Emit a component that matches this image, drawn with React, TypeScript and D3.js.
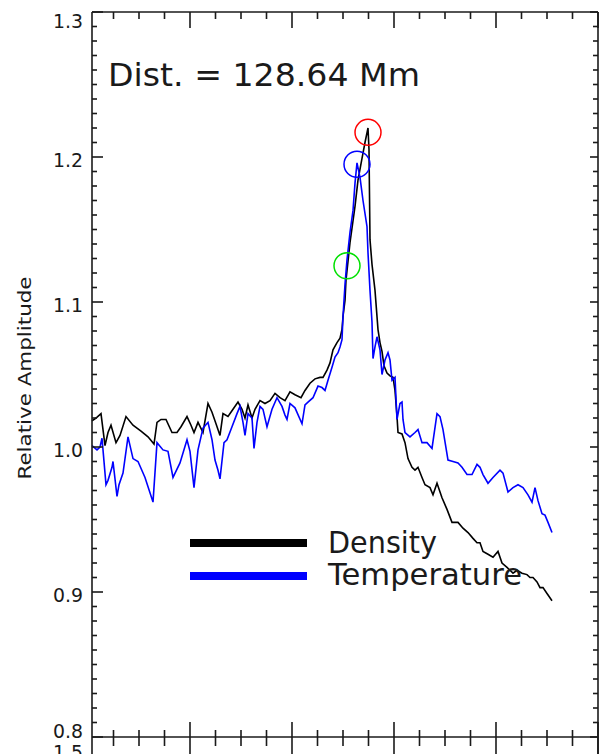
import React from "react";
import * as d3 from "d3";

// Density series: [x (arbitrary distance units), relative amplitude]
const densityPoints: [number, number][] = [
  [0, 1.018], [0.8, 1.02], [1.8, 1.023], [2.6, 1.001], [3.2, 1.01], [3.8, 1.015], [4.8, 1.003], [5.6, 1.008],
  [6.8, 1.021], [8.2, 1.015], [9.8, 1.011], [11.2, 1.007], [12.4, 1.002], [13, 1.017], [13.8, 1.019], [14.8, 1.019],
  [16, 1.01], [17, 1.01], [17.8, 1.014], [19, 1.021], [19.8, 1.015], [20.4, 1.01], [21.2, 1.017], [22.2, 1.01],
  [23.2, 1.03], [24, 1.024], [24.8, 1.016], [25.6, 1.008], [26.2, 1.023], [27.2, 1.021], [28.2, 1.026], [29.2, 1.031],
  [30, 1.026], [30.6, 1.02], [31.2, 1.029], [32, 1.02], [32.6, 1.026], [33.6, 1.032], [34.6, 1.03], [35.6, 1.032],
  [36.6, 1.037], [37.6, 1.034], [38.6, 1.032], [39.6, 1.038], [40.6, 1.036], [41.8, 1.034], [42.6, 1.039], [43.6, 1.044],
  [44.6, 1.047], [45.6, 1.048], [46.2, 1.048], [47, 1.053], [47.6, 1.058], [48.2, 1.067], [49, 1.072], [49.6, 1.075],
  [50, 1.081], [50.2, 1.09], [50.6, 1.101], [50.8, 1.115], [51.6, 1.141], [52.6, 1.166], [53.2, 1.184], [54, 1.199],
  [54.6, 1.21], [55.2, 1.22], [55.4, 1.205], [55.6, 1.143], [56, 1.126], [56.6, 1.108], [57.2, 1.081], [57.6, 1.072],
  [58, 1.066], [58.4, 1.056], [59, 1.051], [59.6, 1.049], [60.2, 1.048], [60.6, 1.039], [61, 1.021], [61.2, 1.01],
  [62, 1.009], [62.6, 1.003], [63.2, 0.992], [64, 0.986], [64.6, 0.984], [65.2, 0.986], [66, 0.979], [66.6, 0.974],
  [67.6, 0.972], [68.2, 0.967], [69, 0.975], [70, 0.965], [71, 0.957], [72, 0.948], [73.2, 0.948], [74.2, 0.944],
  [75.2, 0.941], [76.2, 0.937], [77, 0.934], [77.6, 0.934], [78.2, 0.928], [79.2, 0.926], [80.2, 0.924], [81.2, 0.928],
  [82, 0.92], [83, 0.917], [83.6, 0.915], [84.2, 0.913], [85, 0.915], [86, 0.913], [87, 0.912], [87.6, 0.91],
  [88.2, 0.91], [89, 0.907], [89.6, 0.903], [90.2, 0.903], [91, 0.899], [92, 0.894],
];

// Temperature series
const temperaturePoints: [number, number][] = [
  [0, 1.001], [1, 0.998], [1.6, 1.0], [2, 1.006], [2.2, 0.998], [2.8, 0.974], [3.2, 0.977], [4, 0.986],
  [4.2, 0.99], [5, 0.966], [5.4, 0.974], [6.2, 0.982], [7.2, 1.007], [8.2, 0.992], [9.2, 0.99], [10.6, 0.979],
  [12.2, 0.962], [13, 1.003], [14.2, 0.998], [15.2, 0.997], [16.2, 0.979], [17.6, 0.989], [19, 1.005], [19.6, 0.997],
  [20.4, 0.972], [21.2, 0.998], [22.2, 1.013], [23.2, 1.017], [24, 1.005], [24.6, 0.991], [25.2, 0.984], [25.6, 0.978],
  [26.4, 1.003], [27, 1.005], [28, 1.014], [29, 1.023], [29.6, 1.028], [30.2, 1.017], [30.6, 1.008], [31.2, 1.023],
  [32, 1.02], [32.4, 0.999], [33, 1.017], [33.6, 1.028], [34.2, 1.026], [35, 1.014], [36, 1.026], [37, 1.034],
  [38, 1.028], [38.6, 1.022], [39, 1.019], [39.6, 1.03], [40.6, 1.027], [42, 1.016], [42.6, 1.029], [43.2, 1.031],
  [44.2, 1.034], [45.2, 1.042], [46, 1.041], [46.6, 1.039], [47.2, 1.046], [48, 1.055], [48.6, 1.062], [49.2, 1.065],
  [49.6, 1.069], [50, 1.074], [50.2, 1.09], [50.6, 1.112], [51, 1.129], [51.6, 1.148], [52.2, 1.163], [52.6, 1.182],
  [53, 1.196], [53.6, 1.186], [54.2, 1.17], [55, 1.152], [55.2, 1.134], [55.6, 1.108], [56, 1.086], [56.2, 1.061],
  [56.6, 1.069], [57, 1.076], [57.6, 1.067], [58, 1.05], [58.6, 1.06], [59.2, 1.065], [59.6, 1.06], [60, 1.046],
  [60.6, 1.048], [61, 1.019], [61.6, 1.03], [62, 1.031], [62.2, 1.019], [62.6, 1.01], [63.6, 1.007], [64.6, 1.01],
  [65.2, 1.012], [66, 1.003], [67, 1.003], [68, 0.999], [69, 1.023], [69.6, 1.021], [70.2, 1.012], [71.2, 0.991],
  [72.2, 0.99], [73.2, 0.989], [74, 0.986], [75, 0.981], [76, 0.981], [77, 0.988], [77.6, 0.986], [78.2, 0.981],
  [79.2, 0.975], [80.2, 0.979], [81.6, 0.984], [82.2, 0.982], [83.2, 0.969], [84.2, 0.972], [85.2, 0.974], [86.2, 0.972],
  [87.2, 0.967], [88, 0.962], [88.6, 0.972], [89.2, 0.963], [90, 0.954], [90.6, 0.953], [91.2, 0.948], [92, 0.941],
];

// Highlighted points (circles)
const markerX = [55.2, 53, 51];
const markerY = [1.217, 1.195, 1.125];

const yTickLabels = [0.8, 0.9, 1.0, 1.1, 1.2, 1.3];
const xMajorTicks = [19.6, 40, 60.4, 80.8, 101.2];
const legendLabels = ["Density", "Temperature"];
const annotation = "Dist. = 128.64 Mm";
const yTitle = "Relative Amplitude";

export default function App() {
  const W = 599;
  const H = 754;
  const left = 92, right = 598, top = 12, bottom = 737;
  const x = d3.scaleLinear().domain([0, 101.2]).range([left, right]);
  const y = d3.scaleLinear().domain([0.8, 1.3]).range([bottom, top]);

  const line = d3
    .line<[number, number]>()
    .x((d) => x(d[0]))
    .y((d) => y(d[1]));

  const yMinor = d3.range(0, 51).map((i) => 0.8 + i * 0.01);
  const xMinor = d3.range(-0.8, 101.3, 5.1).filter((v) => v >= 0 && v <= 101.2);
  const isMajorX = (v: number) => xMajorTicks.some((m) => Math.abs(m - v) < 0.01);
  const isMajorY = (v: number) => yTickLabels.some((m) => Math.abs(m - v) < 0.001);

  const axisColor = "#1a1a1a";
  const font = "'DejaVu Sans', sans-serif";
  const markerColors = ["#ff0000", "#0000ff", "#00e000"];

  return (
    <div style={{ position: "fixed", left: 0, top: 0, width: W, height: H, background: "#fff" }}>
      <svg width={W} height={H} style={{ display: "block" }}>
        <rect x={0} y={0} width={W} height={H} fill="#fff" />

        {/* data lines */}
        <path d={line(densityPoints) || ""} fill="none" stroke="#000" strokeWidth={1.6} strokeLinejoin="miter" />
        <path d={line(temperaturePoints) || ""} fill="none" stroke="#0000ff" strokeWidth={1.6} strokeLinejoin="miter" />

        {/* markers */}
        {markerX.map((mx, i) => (
          <circle key={i} cx={x(mx)} cy={y(markerY[i])} r={13} fill="none" stroke={markerColors[i]} strokeWidth={1.5} />
        ))}

        {/* axes lines */}
        <g stroke={axisColor} strokeWidth={1.6} fill="none">
          <line x1={left} y1={top} x2={left} y2={H} />
          <line x1={right} y1={top} x2={right} y2={H} />
          <line x1={left} y1={top} x2={right} y2={top} />
          <line x1={left} y1={bottom} x2={right} y2={bottom} />
          {yMinor.map((v, i) => {
            const major = isMajorY(v);
            const yy = y(v);
            return (
              <g key={"y" + i}>
                <line x1={left} x2={left + (major ? 11 : 5)} y1={yy} y2={yy} />
                <line x1={right} x2={right - (major ? 8 : 5)} y1={yy} y2={yy} />
              </g>
            );
          })}
          {xMinor.map((v, i) => {
            const major = isMajorX(v);
            const xx = x(v);
            return (
              <g key={"x" + i}>
                <line x1={xx} x2={xx} y1={top} y2={top + (major ? 16 : 7)} />
                <line x1={xx} x2={xx} y1={major ? bottom - 15 : bottom - 7} y2={major ? H : bottom + 9} />
              </g>
            );
          })}
        </g>

        {/* y tick labels */}
        {yTickLabels.map((v, i) => {
          let by = y(v) + 10;
          if (i === 0) by = y(v) + 1;
          if (by < 28) by = 28;
          return (
            <text key={"yl" + i} x={83} y={by} textAnchor="end" fontFamily={font} fontSize={20}
              fill={axisColor} textLength={30} lengthAdjust="spacingAndGlyphs">
              {d3.format(".1f")(v)}
            </text>
          );
        })}
        {/* partially visible label of the panel below */}
        <text x={83} y={759} textAnchor="end" fontFamily={font} fontSize={20} fill={axisColor}
          textLength={30} lengthAdjust="spacingAndGlyphs">1.5</text>

        {/* y title */}
        <text transform={`translate(31, 378) rotate(-90)`} textAnchor="middle" fontFamily={font} fontSize={18}
          fill={axisColor} textLength={203} lengthAdjust="spacingAndGlyphs">
          {yTitle}
        </text>

        {/* annotation */}
        <text x={108} y={86} fontFamily={font} fontSize={32} fill={axisColor} textLength={312} lengthAdjust="spacingAndGlyphs">
          {annotation}
        </text>

        {/* legend */}
        <line x1={190} x2={307} y1={543} y2={543} stroke="#000" strokeWidth={8} />
        <line x1={190} x2={307} y1={576} y2={576} stroke="#0000ff" strokeWidth={8} />
        <text x={328} y={553} fontFamily={font} fontSize={31} fill={axisColor} textLength={109} lengthAdjust="spacingAndGlyphs">
          {legendLabels[0]}
        </text>
        <text x={328} y={585} fontFamily={font} fontSize={31} fill={axisColor} textLength={194} lengthAdjust="spacingAndGlyphs">
          {legendLabels[1]}
        </text>
      </svg>
    </div>
  );
}
